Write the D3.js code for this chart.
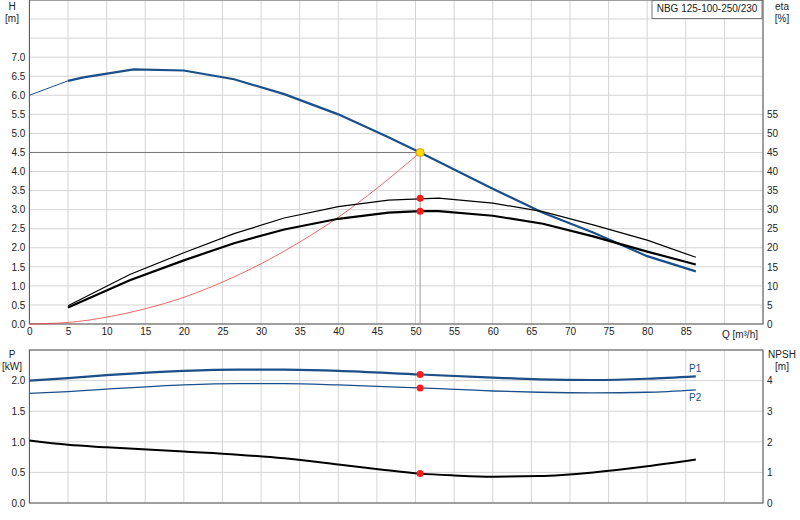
<!DOCTYPE html><html><head><meta charset="utf-8"><script src="https://cdn.jsdelivr.net/npm/d3@7"></script>
<style>body{margin:0;background:#fff}text{font-family:"Liberation Sans",Arial,sans-serif;font-size:10px;fill:#222}</style></head><body><svg id="c" width="800" height="520"></svg><script>
const qTicks=[0,5,10,15,20,25,30,35,40,45,50,55,60,65,70,75,80,85];
const hTicks=[0,0.5,1,1.5,2,2.5,3,3.5,4,4.5,5,5.5,6,6.5,7];
const etaTicks=[0,5,10,15,20,25,30,35,40,45,50,55];
const pTicks=[0,0.5,1,1.5,2];
const npshTicks=[0,1,2,3,4];
const headQ=[0,5,7,13.5,20,26.5,33,40,46.5,50.6,60,66.5,73,80,86.3];
const headH=[6.0,6.38,6.47,6.68,6.65,6.42,6.03,5.5,4.9,4.5,3.55,2.92,2.4,1.78,1.38];
const etaQ=[5,13,20,26.5,33,40,46.5,53,60,66.5,73,80,86.3];
const eta1=[4.8,13,18.7,23.7,27.8,30.8,32.5,33,31.7,29.5,26,22,17.5];
const eta2Q=[5,13,20,26.5,33,40,46.5,50.6,53,60,66.5,73,80,86.3];
const eta2=[4.3,11.5,16.7,21.2,24.8,27.6,29.2,29.6,29.6,28.4,26.3,23,19,15.6];
const sysQ=[0,5,10,15,20,25,30,35,40,45,50.6];
const sysH=[0,0.04,0.18,0.4,0.7,1.1,1.58,2.15,2.8,3.56,4.5];
const pQ=[0,5,10,20,27,33,40,50.6,60,66,73,80,86.3];
const p1=[2.0,2.04,2.09,2.16,2.18,2.18,2.16,2.1,2.05,2.02,2.01,2.03,2.07];
const p2=[1.79,1.82,1.86,1.93,1.95,1.95,1.93,1.88,1.83,1.81,1.80,1.81,1.85];
const nQ=[0,5,10,20,27,33,40,46,50.6,55,60,66,73,80,86.3];
const npsh=[2.04,1.9,1.82,1.68,1.58,1.46,1.26,1.08,0.96,0.9,0.86,0.88,1.0,1.2,1.42];
const dutyQ=50.6, dutyH=4.5, dutyEta1=33, dutyEta2=29.6, dutyP1=2.1, dutyP2=1.88, dutyNpsh=0.96;

const svg=d3.select("#c");
const x=d3.scaleLinear().domain([0,95]).range([29.4,763]);
const yH=d3.scaleLinear().domain([0,8.5]).range([324,0]);
const yE=d3.scaleLinear().domain([0,85]).range([324,0]);
const yP=d3.scaleLinear().domain([0,2.5]).range([503,350]);
const yN=d3.scaleLinear().domain([0,5]).range([503,350]);
const grid="#d4d4d4";
d3.range(0,96,5).forEach(q=>svg.append("line").attr("x1",x(q)).attr("x2",x(q)).attr("y1",0).attr("y2",324).attr("stroke",grid));
d3.range(0,8.6,0.5).forEach(h=>svg.append("line").attr("x1",29.4).attr("x2",763).attr("y1",yH(h)).attr("y2",yH(h)).attr("stroke",grid));
d3.range(0,96,5).forEach(q=>svg.append("line").attr("x1",x(q)).attr("x2",x(q)).attr("y1",350).attr("y2",503).attr("stroke",grid));
d3.range(0,2.6,0.5).forEach(p=>svg.append("line").attr("x1",29.4).attr("x2",763).attr("y1",yP(p)).attr("y2",yP(p)).attr("stroke",grid));
const ax=(g)=>{g.select(".domain").remove();g.selectAll(".tick line").remove();};
svg.append("g").attr("transform","translate(29.4,0)").call(d3.axisLeft(yH).tickValues(hTicks).tickFormat(d3.format(".1f")).tickSize(0).tickPadding(4)).call(ax);
svg.append("g").attr("transform","translate(763,0)").call(d3.axisRight(yE).tickValues(etaTicks).tickFormat(d3.format("d")).tickSize(0).tickPadding(4)).call(ax);
svg.append("g").attr("transform","translate(0,324)").call(d3.axisBottom(x).tickValues(qTicks).tickFormat(d3.format("d")).tickSize(0).tickPadding(4)).call(ax);
svg.append("g").attr("transform","translate(29.4,0)").call(d3.axisLeft(yP).tickValues(pTicks).tickFormat(d3.format(".1f")).tickSize(0).tickPadding(4)).call(ax);
svg.append("g").attr("transform","translate(763,0)").call(d3.axisRight(yN).tickValues(npshTicks).tickFormat(d3.format("d")).tickSize(0).tickPadding(4)).call(ax);
svg.selectAll(".tick text").style("font-size","10px").style("font-family","'Liberation Sans',Arial,sans-serif").attr("fill","#222");
svg.append("rect").attr("x",29.4).attr("y",0).attr("width",763-29.4).attr("height",324).attr("fill","none").attr("stroke","#555");
svg.append("rect").attr("x",29.4).attr("y",350).attr("width",763-29.4).attr("height",153).attr("fill","none").attr("stroke","#555");
const T=(s,xx,yy,a)=>svg.append("text").attr("x",xx).attr("y",yy).attr("text-anchor",a||"start").text(s);
T("H",12,10,"middle");T("[m]",12,22,"middle");T("eta",782,10,"middle");T("[%]",782,22,"middle");
T("Q [m³/h]",758,338,"end");T("P",12,358,"middle");T("[kW]",12,370,"middle");T("NPSH",782,358,"middle");T("[m]",782,370,"middle");
svg.append("rect").attr("x",652).attr("y",0.5).attr("width",110).attr("height",18).attr("fill","#fff").attr("stroke","#777");
T("NBG 125-100-250/230",707,12,"middle");
svg.append("text").attr("x",689).attr("y",372).style("fill","#1a4f8a").text("P1");
svg.append("text").attr("x",689).attr("y",401).style("fill","#1a4f8a").text("P2");
svg.append("line").attr("x1",x(0)).attr("x2",x(dutyQ)).attr("y1",yH(dutyH)).attr("y2",yH(dutyH)).attr("stroke","#777");
svg.append("line").attr("x1",x(dutyQ)).attr("x2",x(dutyQ)).attr("y1",yH(dutyH)).attr("y2",324).attr("stroke","#999");
const L=(xs,ys,ysc,c,w,curve)=>svg.append("path").datum(xs.map((q,i)=>[q,ys[i]])).attr("fill","none").attr("stroke",c).attr("stroke-width",w)
 .attr("d",d3.line().x(d=>x(d[0])).y(d=>ysc(d[1])).curve(curve||d3.curveLinear));
L(sysQ,sysH,yH,"#f04040",0.8,d3.curveMonotoneX);
L(headQ.slice(0,2),headH.slice(0,2),yH,"#1a4f8a",1);
L(headQ.slice(1),headH.slice(1),yH,"#1a4f8a",2.2);
L(etaQ,eta1,yE,"#000",1.2);
L(eta2Q,eta2,yE,"#000",2.2);
L(pQ,p1,yP,"#1a4f8a",2.2,d3.curveMonotoneX);
L(pQ,p2,yP,"#1a4f8a",1.3,d3.curveMonotoneX);
L(nQ,npsh,yN,"#000",2,d3.curveMonotoneX);
const D=(cy,col,r)=>svg.append("circle").attr("cx",x(dutyQ)).attr("cy",cy).attr("r",r||3.5).attr("fill",col).attr("stroke",col=="#ffdd00"?"#e0a000":"none");
D(yE(dutyEta1),"#ff1a1a");D(yE(dutyEta2),"#ff1a1a");D(yH(dutyH),"#ffdd00",4);
D(yP(dutyP1),"#ff1a1a");D(yP(dutyP2),"#ff1a1a");D(yN(dutyNpsh),"#ff1a1a");
</script></body></html>
